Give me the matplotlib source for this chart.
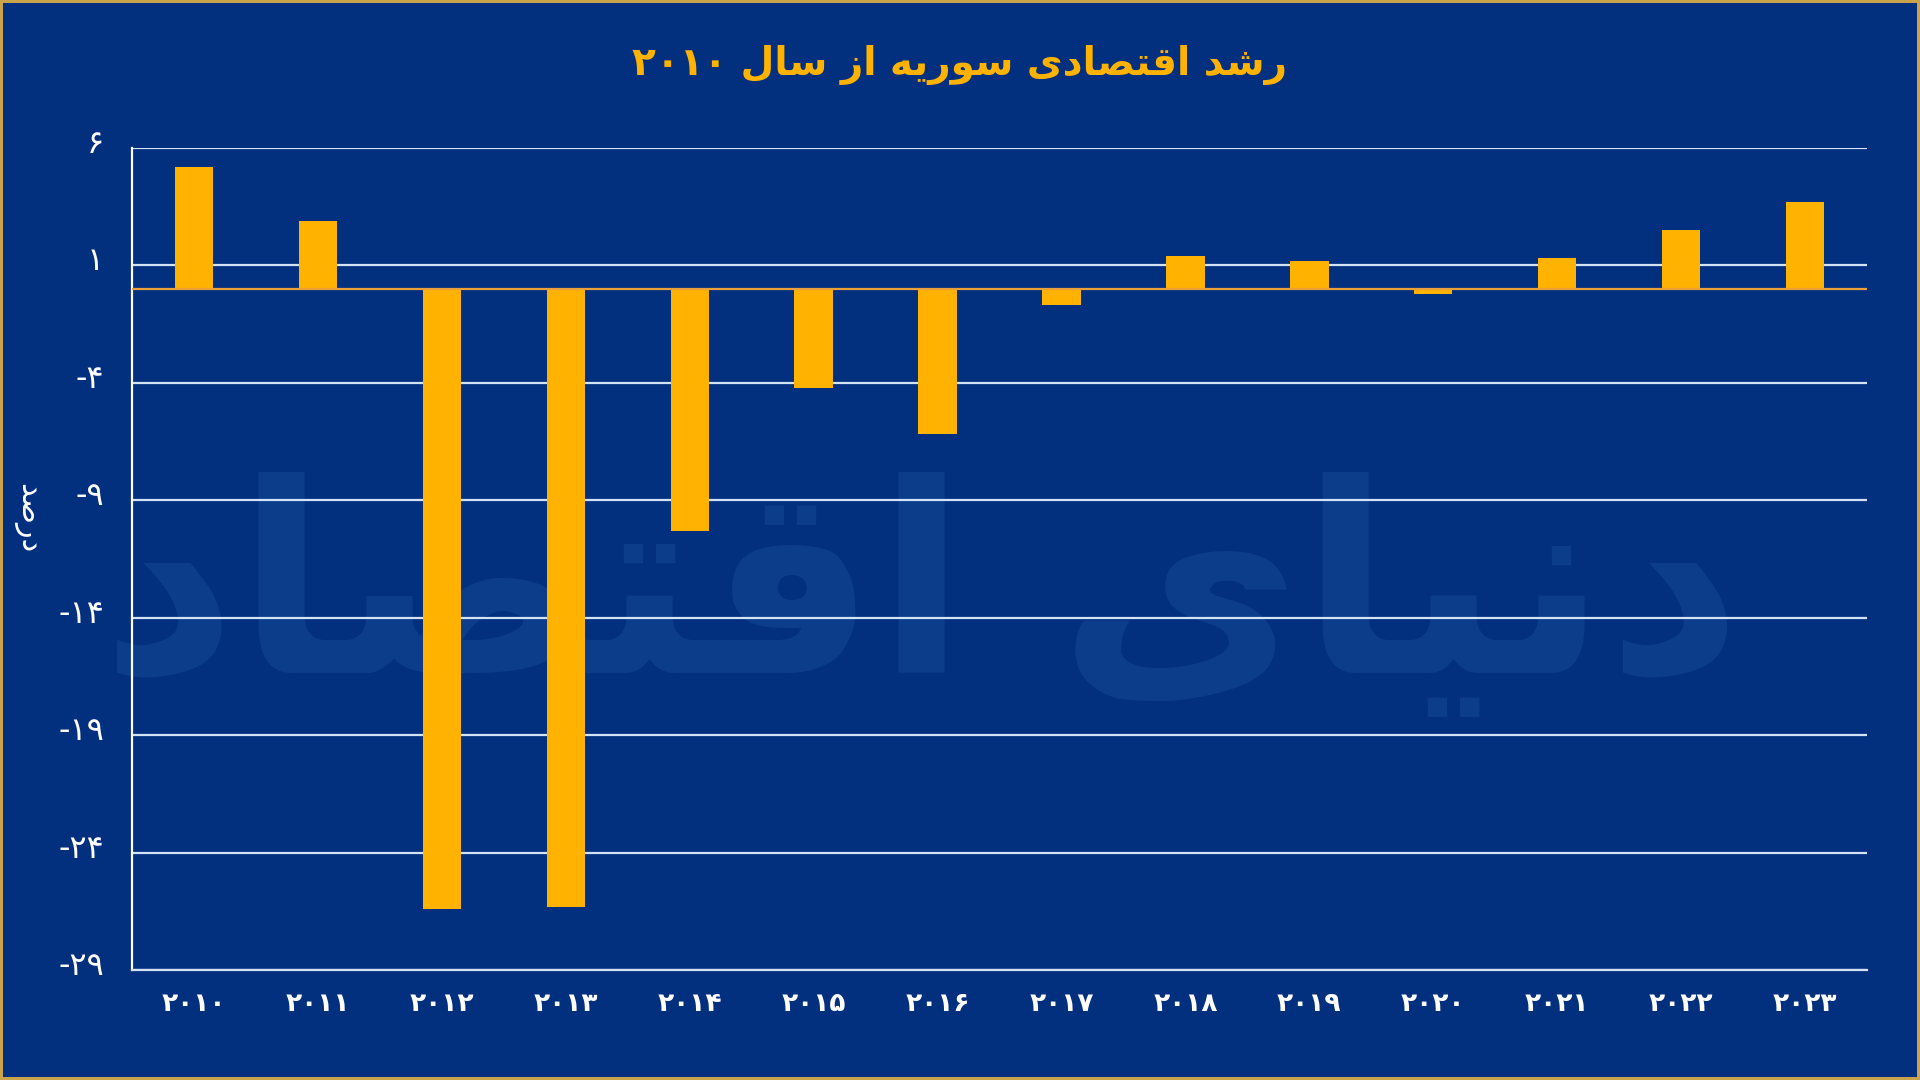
import matplotlib.pyplot as plt
import matplotlib.transforms as mtransforms
import numpy as np

# data (annual GDP growth, percent)
years = [2010, 2011, 2012, 2013, 2014, 2015, 2016, 2017, 2018, 2019, 2020, 2021, 2022, 2023]
growth = [5.2, 2.9, -26.4, -26.3, -10.3, -4.2, -6.2, -0.7, 1.4, 1.2, -0.2, 1.3, 2.5, 3.7]
y_ticks = [6, 1, -4, -9, -14, -19, -24, -29]

# Persian text, written in visual order with Arabic presentation forms
# (matplotlib has no shaping for Arabic script)
title_text = "۲۰۱۰ \uFEDD\uFE8E\uFEB3 \uFEAF\uFE8D \uFEEA\uFBFE\uFEAD\uFEEE\uFEB3 \uFBFC\uFEA9\uFE8E\uFEBC\uFE98\uFED7\uFE8D \uFEAA\uFEB7\uFEAD"
ylabel_text = "\uFEAA\uFEBB\uFEAD\uFEA9"
watermark_text = "\uFEA9\uFE8E\uFEBC\uFE98\uFED7\uFE8D \uFBFC\uFE8E\uFBFF\uFEE7\uFEA9"

BG = "#022f7e"
BAR = "#ffb300"
GRID = "#d3e2f4"
ZERO = "#eba03a"
BORDER = "#c9a44c"

FA_DIGITS = str.maketrans("0123456789", "۰۱۲۳۴۵۶۷۸۹")


def to_fa(value) -> str:
    return str(value).translate(FA_DIGITS)


plt.rcParams['font.family'] = ['DejaVu Sans']

fig = plt.figure(figsize=(19.2, 10.8), dpi=100, facecolor=BG,
                 edgecolor=BORDER, linewidth=4)
ax = fig.add_axes([0.0688, 0.1019, 0.9036, 0.7611])
ax.set_facecolor(BG)

# faint logo behind the bars
ax.text(0.455, 0.45, watermark_text, transform=ax.transAxes, fontsize=190,
        fontweight='bold', color="#0b3d8b", ha='center', va='center', zorder=0.5)

x = np.arange(len(years))
ax.bar(x, growth, width=0.31, color=BAR, zorder=3)

ax.set_ylim(-29, 6)
ax.set_xlim(-0.5, len(years) - 0.5)
ax.set_yticks(y_ticks)
ax.set_yticklabels([("-" + to_fa(-v)) if v < 0 else to_fa(v) for v in y_ticks])
ax.set_xticks(x)
ax.set_xticklabels([to_fa(y) for y in years], fontweight='bold')

ax.grid(axis='y', color=GRID, linewidth=1.6, zorder=1)
ax.axhline(0, color=ZERO, linewidth=1.6, zorder=4)

for side in ('top', 'right'):
    ax.spines[side].set_visible(False)
ax.spines['left'].set_color('white')
ax.spines['left'].set_linewidth(1.6)
ax.spines['bottom'].set_color(GRID)
ax.spines['bottom'].set_linewidth(1.6)

ax.tick_params(axis='y', length=0, pad=20, labelsize=23, colors='white')
ax.tick_params(axis='x', length=0, pad=15, labelsize=19, colors='white')

# y labels sit slightly above their grid lines
shift = mtransforms.ScaledTranslation(0, 5 / 72, fig.dpi_scale_trans)
for label in ax.get_yticklabels():
    label.set_transform(label.get_transform() + shift)

fig.text(0.014, 0.52, ylabel_text, rotation=270, fontsize=22, color='white',
         ha='center', va='center')
fig.text(0.5, 0.94, title_text, fontsize=28, fontweight='bold', color=BAR,
         ha='center', va='center')

fig.savefig("out.png", dpi=100)
